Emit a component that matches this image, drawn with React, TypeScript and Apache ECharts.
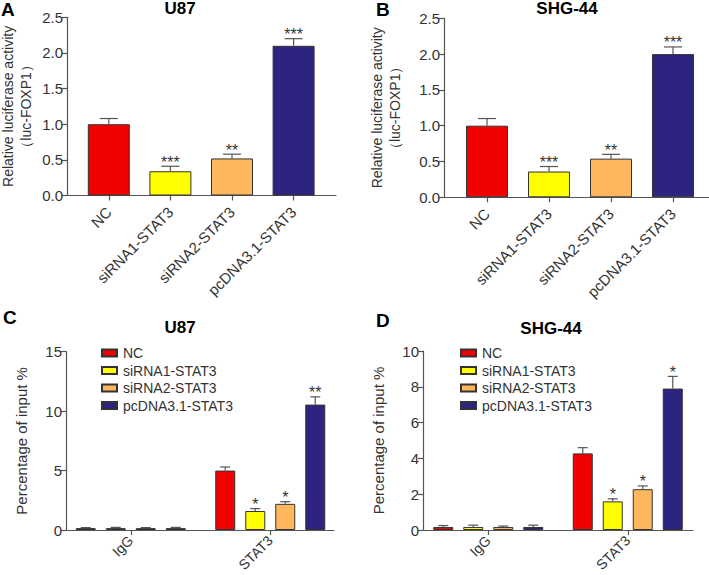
import React, { useEffect, useRef } from "react";
import * as echarts from "echarts";

const FONT = "'Liberation Sans', Arial, Helvetica, sans-serif";

// Panels A & B (luciferase)
const treatments = ["NC", "siRNA1-STAT3", "siRNA2-STAT3", "pcDNA3.1-STAT3"];
const treatmentColors = ["#f00000", "#ffff00", "#ffb75e", "#2d2482"];
const valuesA = [1.0, 0.34, 0.52, 2.1];
const errTopA = [1.08, 0.41, 0.58, 2.2];
const starsA = ["", "***", "**", "***"];
const valuesB = [1.0, 0.36, 0.54, 2.0];
const errTopB = [1.1, 0.43, 0.6, 2.1];
const starsB = ["", "***", "**", "***"];

// Panels C & D (ChIP)
const groups = ["IgG", "STAT3"];
const valuesC = [
  [0.16, 5.0],
  [0.16, 1.6],
  [0.16, 2.2],
  [0.16, 10.55],
];
const errTopC = [
  [0.2, 5.3],
  [0.22, 1.8],
  [0.2, 2.38],
  [0.22, 11.2],
];
const starsC = [
  ["", ""],
  ["", "*"],
  ["", "*"],
  ["", "**"],
];
const valuesD = [
  [0.17, 4.28],
  [0.17, 1.6],
  [0.17, 2.28],
  [0.17, 7.9],
];
const errTopD = [
  [0.25, 4.6],
  [0.27, 1.74],
  [0.22, 2.46],
  [0.27, 8.58],
];
const starsD = [
  ["", ""],
  ["", "*"],
  ["", "*"],
  ["", "*"],
];

const AXIS = "#555";
const LABEL = "#333";

function errRender(barStep: number, capW: number, stars: (i: number) => string) {
  return (params: any, api: any) => {
    const cat = api.value(0);
    const v = api.value(1);
    const e = api.value(2);
    const s = api.value(3);
    const p0 = api.coord([cat, v]);
    const p1 = api.coord([cat, e]);
    const x = p0[0] + (s - 1.5) * barStep;
    const star = stars(params.dataIndex);
    return {
      type: "group",
      children: [
        { type: "line", shape: { x1: x, y1: p0[1], x2: x, y2: p1[1] }, style: { stroke: AXIS, lineWidth: 1.2 } },
        { type: "line", shape: { x1: x - capW / 2, y1: p1[1], x2: x + capW / 2, y2: p1[1] }, style: { stroke: AXIS, lineWidth: 1.2 } },
        {
          type: "text",
          style: { text: star, x, y: p1[1] - 4, align: "center", verticalAlign: "middle", fontSize: 16, fill: LABEL, fontFamily: FONT },
        },
      ],
    };
  };
}

function frameAxes(gridIndex: number, min: number, max: number, interval: number, decimals: number, name: string, nameGap: number, nameSize: number) {
  const x = {
    gridIndex,
    type: "value",
    min: 0,
    max: 1,
    axisLine: { show: true, lineStyle: { color: AXIS, width: 1.2 } },
    axisTick: { show: false },
    axisLabel: { show: false },
    splitLine: { show: false },
  };
  const y = {
    gridIndex,
    type: "value",
    min,
    max,
    interval,
    name,
    nameLocation: "middle",
    nameGap,
    nameRotate: 90,
    nameTextStyle: { fontSize: nameSize, color: LABEL, fontFamily: FONT, lineHeight: 18, align: "center" },
    axisLine: { show: true, lineStyle: { color: AXIS, width: 1.2 } },
    axisTick: { show: true, length: 5, lineStyle: { color: AXIS, width: 1.2 } },
    axisLabel: {
      fontSize: 15,
      color: LABEL,
      fontFamily: FONT,
      margin: 4,
      formatter: (v: number) => v.toFixed(decimals),
    },
    splitLine: { show: false },
  };
  return { x, y };
}

function dataAxes(gridIndex: number, cats: string[], min: number, max: number, margin: number, fontSize: number) {
  const x = {
    gridIndex,
    type: "category",
    data: cats,
    axisLine: { show: false },
    axisTick: { show: true, alignWithLabel: true, length: 5, lineStyle: { color: AXIS, width: 1.2 } },
    axisLabel: { rotate: 45, fontSize, color: LABEL, fontFamily: FONT, margin, interval: 0 },
    splitLine: { show: false },
  };
  const y = { gridIndex, type: "value", min, max, show: false, splitLine: { show: false } };
  return { x, y };
}

export default function App() {
  const ref = useRef<HTMLDivElement>(null);
  useEffect(() => {
    if (!ref.current) return;
    const chart = echarts.init(ref.current, undefined, { renderer: "svg" });

    const fA = frameAxes(0, 0, 2.5, 0.5, 1, "Relative luciferase activity\n（luc-FOXP1）", 32, 14);
    const dA = dataAxes(1, treatments, 0, 2.5, 14, 15);
    const fB = frameAxes(2, 0, 2.5, 0.5, 1, "Relative luciferase activity\n（luc-FOXP1）", 40, 14);
    const dB = dataAxes(3, treatments, 0, 2.5, 14, 15);
    const fC = frameAxes(4, 0, 15, 5, 0, "Percentage of input %", 36, 15);
    const dC = dataAxes(5, groups, 0, 15, 8, 14);
    const fD = frameAxes(6, 0, 10, 2, 0, "Percentage of input %", 36, 15);
    const dD = dataAxes(7, groups, 0, 10, 8, 14);

    const barsAB = (xi: number, vals: number[]) => ({
      type: "bar",
      xAxisIndex: xi,
      yAxisIndex: xi,
      barWidth: 42,
      data: vals.map((v, i) => ({ value: v, itemStyle: { color: treatmentColors[i] } })),
      itemStyle: { borderColor: "#333", borderWidth: 1 },
    });
    const errAB = (xi: number, vals: number[], tops: number[], stars: string[]) => ({
      type: "custom",
      xAxisIndex: xi,
      yAxisIndex: xi,
      data: vals.map((v, i) => [i, v, tops[i], 1.5]),
      renderItem: errRender(0, 18, (i) => stars[i]),
      z: 5,
    });
    const barsCD = (xi: number, vals: number[][]) =>
      treatments.map((name, s) => ({
        type: "bar",
        name,
        xAxisIndex: xi,
        yAxisIndex: xi,
        barWidth: 20,
        barGap: "50%",
        data: vals[s],
        itemStyle: { color: treatmentColors[s], borderColor: "#333", borderWidth: 1 },
      }));
    const errCD = (xi: number, vals: number[][], tops: number[][], stars: string[][]) => {
      const d: number[][] = [];
      const st: string[] = [];
      vals.forEach((row, s) =>
        row.forEach((v, c) => {
          d.push([c, v, tops[s][c], s]);
          st.push(stars[s][c]);
        })
      );
      return {
        type: "custom",
        xAxisIndex: xi,
        yAxisIndex: xi,
        data: d,
        renderItem: errRender(30, 10, (i) => st[i]),
        z: 5,
      };
    };

    const titleStyle = { fontSize: 17, fontWeight: "bold", color: "#000", fontFamily: FONT };
    const letterStyle = { fontSize: 19, fontWeight: "bold", color: "#000", fontFamily: FONT };

    const legendBase = {
      orient: "vertical",
      itemWidth: 15,
      itemHeight: 7,
      itemGap: 3.5,
      icon: "rect",
      textStyle: { fontSize: 14, color: LABEL, fontFamily: FONT, padding: [0, 0, 0, 1] },
      data: treatments,
      selectedMode: false,
    };

    const g = (left: number, top: number, width: number, height: number) => ({
      left,
      top,
      width,
      height,
      containLabel: false,
      outerBoundsMode: "none",
    });

    chart.setOption({
      animation: false,
      backgroundColor: "#fff",
      textStyle: { fontFamily: FONT },
      title: [
        { text: "A", left: 1, top: 0, padding: 0, textStyle: letterStyle },
        { text: "U87", left: 180, top: 0, padding: 0, textAlign: "center", textStyle: titleStyle },
        { text: "B", left: 376, top: 0, padding: 0, textStyle: letterStyle },
        { text: "SHG-44", left: 567, top: 0, padding: 0, textAlign: "center", textStyle: titleStyle },
        { text: "C", left: 3, top: 308, padding: 0, textStyle: letterStyle },
        { text: "U87", left: 180, top: 319, padding: 0, textAlign: "center", textStyle: titleStyle },
        { text: "D", left: 376, top: 311, padding: 0, textStyle: letterStyle },
        { text: "SHG-44", left: 551, top: 320, padding: 0, textAlign: "center", textStyle: titleStyle },
      ],
      legend: [
        { ...legendBase, left: 96, top: 341 },
        { ...legendBase, left: 455, top: 341 },
      ],
      grid: [
        g(67, 17.3, 269, 178.2),
        g(78, 17.3, 246.4, 178.2),
        g(444, 18.3, 265, 179),
        g(456, 18.3, 248, 179),
        g(66, 351.7, 268, 178.3),
        g(61, 351.7, 279, 178.3),
        g(423, 351, 270, 179),
        g(418.5, 351, 279, 179),
      ],
      xAxis: [fA.x, dA.x, fB.x, dB.x, fC.x, dC.x, fD.x, dD.x],
      yAxis: [fA.y, dA.y, fB.y, dB.y, fC.y, dC.y, fD.y, dD.y],
      series: [
        barsAB(1, valuesA),
        errAB(1, valuesA, errTopA, starsA),
        barsAB(3, valuesB),
        errAB(3, valuesB, errTopB, starsB),
        ...barsCD(5, valuesC),
        errCD(5, valuesC, errTopC, starsC),
        ...barsCD(7, valuesD),
        errCD(7, valuesD, errTopD, starsD),
      ],
    });
    return () => chart.dispose();
  }, []);
  return <div ref={ref} style={{ position: "absolute", left: 0, top: 0, width: 709, height: 575 }} />;
}
